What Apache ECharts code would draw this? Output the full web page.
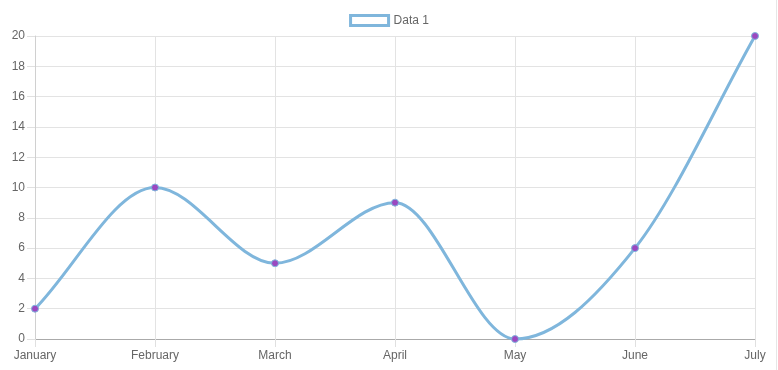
<!DOCTYPE html>
<html><head><meta charset="utf-8">
<script src="https://cdn.jsdelivr.net/npm/echarts@6/dist/echarts.min.js"></script>
<style>html,body{margin:0;padding:0;background:#fff}#c{width:778px;height:370px}</style>
</head><body><div id="c"></div>
<script>
var categories = ["January","February","March","April","May","June","July"];
var data1 = [2, 10, 5, 9, 0, 6, 20];
var seriesName = "Data 1";
var chart = echarts.init(document.getElementById('c'), null, {renderer:'canvas'});
var font = "'Liberation Sans', Arial, Helvetica, sans-serif";
var lineColor = '#7fb6dc';

// Monotone cubic (Fritsch–Carlson) curve drawn through axis coordinates
function renderCurve(params, api) {
  if (params.dataIndex !== 0) return;
  var pts = data1.map(function(v, i){ return api.coord([i, v]); });
  var n = pts.length, d = [], m = [];
  for (var i = 0; i < n - 1; i++) {
    var dx = pts[i+1][0] - pts[i][0];
    d[i] = dx ? (pts[i+1][1] - pts[i][1]) / dx : 0;
  }
  for (i = 0; i < n; i++) {
    if (i === 0) m[i] = d[0];
    else if (i === n - 1) m[i] = d[n-2];
    else if ((d[i-1] > 0) !== (d[i] > 0) || d[i-1] === 0 || d[i] === 0) m[i] = 0;
    else m[i] = (d[i-1] + d[i]) / 2;
  }
  for (i = 0; i < n - 1; i++) {
    if (d[i] === 0) { m[i] = m[i+1] = 0; continue; }
    var a = m[i] / d[i], b = m[i+1] / d[i], s = a*a + b*b;
    if (s > 9) { var t = 3 / Math.sqrt(s); m[i] = a*t*d[i]; m[i+1] = b*t*d[i]; }
  }
  var children = [];
  for (i = 0; i < n - 1; i++) {
    var h = (pts[i+1][0] - pts[i][0]) / 3;
    children.push({type:'bezierCurve', shape:{
      x1:pts[i][0], y1:pts[i][1], x2:pts[i+1][0], y2:pts[i+1][1],
      cpx1:pts[i][0]+h, cpy1:pts[i][1]+h*m[i],
      cpx2:pts[i+1][0]-h, cpy2:pts[i+1][1]-h*m[i+1]},
      style:{stroke:lineColor, lineWidth:3, fill:null, lineJoin:'round'}});
  }
  return {type:'group', children:children};
}

chart.setOption({
  animation:false,
  textStyle:{fontFamily:font},
  graphic:[{type:'line',shape:{x1:776.5,y1:0,x2:776.5,y2:370},style:{stroke:'#e6e6e6',lineWidth:1},silent:true}],
  legend:{top:9,left:'center',itemWidth:38,itemHeight:10,itemGap:10,
    icon:'rect',
    textStyle:{color:'#666',fontSize:12,fontFamily:font},
    data:[{name:seriesName,itemStyle:{color:'#fff',borderColor:lineColor,borderWidth:3}}]},
  grid:{left:35,right:23,top:36,bottom:31,containLabel:false},
  xAxis:{type:'category',data:categories,boundaryGap:false,
    axisLine:{lineStyle:{color:'#aaa'}},
    axisTick:{show:true,length:8,lineStyle:{color:'#e0e0e0'}},
    axisLabel:{color:'#666',fontSize:12,margin:11,fontFamily:font},
    splitLine:{show:true,lineStyle:{color:'#e3e3e3'}}},
  yAxis:{type:'value',min:0,max:20,interval:2,
    axisLine:{show:true,lineStyle:{color:'#d0d0d0'}},
    axisTick:{show:true,length:8,lineStyle:{color:'#e0e0e0'}},
    axisLabel:{color:'#666',fontSize:12,margin:10,fontFamily:font},
    splitLine:{show:true,lineStyle:{color:'#e3e3e3'}}},
  series:[
    {type:'custom', name:'curve', data:data1.map(function(v,i){return [i,v];}),
      renderItem:renderCurve, z:1, silent:true, clip:false},
    {name:seriesName,type:'line',data:data1,
      symbol:'circle',symbolSize:7,z:3,
      lineStyle:{color:lineColor,width:0,opacity:0},
      itemStyle:{color:'#9b48c0',borderColor:lineColor,borderWidth:1}}]
});
</script></body></html>
